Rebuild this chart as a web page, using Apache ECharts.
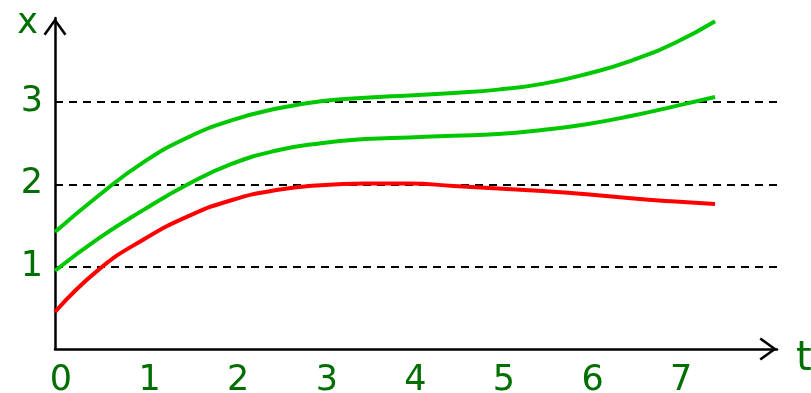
<!DOCTYPE html>
<html>
<head>
<meta charset="utf-8">
<script src="https://cdn.jsdelivr.net/npm/echarts@6/dist/echarts.min.js"></script>
<style>
  html, body { margin: 0; padding: 0; background: #ffffff; }
  #chart { width: 811px; height: 393px; }
</style>
</head>
<body>
<div id="chart"></div>
<script>
// Sample times (t) shared by the three solutions x(t)
const times = [0, 0.5, 1, 1.5, 2, 2.5, 3, 3.5, 4, 4.5, 5, 5.5, 6, 6.5, 7, 7.45];

// Upper and lower green solutions, red solution
const upperGreen = [1.42, 1.87, 2.27, 2.57, 2.78, 2.92, 3.01, 3.05, 3.08, 3.11, 3.15, 3.22, 3.34, 3.50, 3.72, 3.98];
const lowerGreen = [0.95, 1.35, 1.69, 2.00, 2.25, 2.41, 2.50, 2.55, 2.57, 2.59, 2.61, 2.66, 2.73, 2.83, 2.95, 3.06];
const redCurve   = [0.45, 0.97, 1.33, 1.61, 1.81, 1.93, 1.99, 2.01, 2.01, 1.98, 1.95, 1.92, 1.88, 1.83, 1.79, 1.76];

// Tick labels on each axis
const tTicks = [0, 1, 2, 3, 4, 5, 6, 7];
const xTicks = [1, 2, 3];

const labelColor = '#006e00';
const font = 'DejaVu Sans';

// Open chevron arrow head, pointing up before the axis rotates it
const chevron = 'path://M0,0 L11.5,16 L9.4,17.6 L0,4.3 L-9.4,17.6 L-11.5,16 Z';

function pairs(values) {
  return times.map((t, i) => [t, values[i]]);
}

function curve(values, color) {
  return {
    type: 'line',
    data: pairs(values),
    smooth: 0.5,
    showSymbol: false,
    symbol: 'none',
    lineStyle: { color: color, width: 4 },
    z: 3
  };
}

const axisLine = {
  show: true,
  onZero: false,
  symbol: ['none', chevron],
  symbolSize: [23, 17.6],
  symbolOffset: [0, -8.8],
  lineStyle: { color: '#000000', width: 2.5 }
};

const chart = echarts.init(document.getElementById('chart'));
chart.setOption({
  animation: false,
  backgroundColor: '#ffffff',
  grid: { left: 55, right: 34, top: 18, bottom: 44, outerBoundsMode: 'none', containLabel: false },
  xAxis: {
    type: 'value',
    min: 0,
    max: 8.149,
    interval: 1,
    name: 't',
    nameLocation: 'end',
    nameGap: 19,
    nameTextStyle: { color: labelColor, fontFamily: font, fontSize: 40, align: 'left', verticalAlign: 'top', lineHeight: 22 },
    axisLine: axisLine,
    axisTick: { show: false, customValues: tTicks },
    axisLabel: { customValues: tTicks, color: labelColor, fontFamily: font, fontSize: 35, margin: 14, padding: [0, 0, 0, 12] },
    splitLine: { show: false }
  },
  yAxis: {
    type: 'value',
    min: 0,
    max: 4.02,
    interval: 1,
    name: 'x',
    nameLocation: 'end',
    nameGap: -6,
    nameTextStyle: { color: labelColor, fontFamily: font, fontSize: 35, align: 'right', verticalAlign: 'middle', padding: [0, 17, 0, 0] },
    axisLine: axisLine,
    axisTick: { show: false, customValues: xTicks },
    axisLabel: { customValues: xTicks, color: labelColor, fontFamily: font, fontSize: 35, margin: 12 },
    splitLine: { show: true, lineStyle: { color: '#000000', width: 2, type: [8, 6] } }
  },
  series: [
    curve(upperGreen, '#00c800'),
    curve(lowerGreen, '#00c800'),
    curve(redCurve, '#ff0000')
  ]
});
</script>
</body>
</html>
